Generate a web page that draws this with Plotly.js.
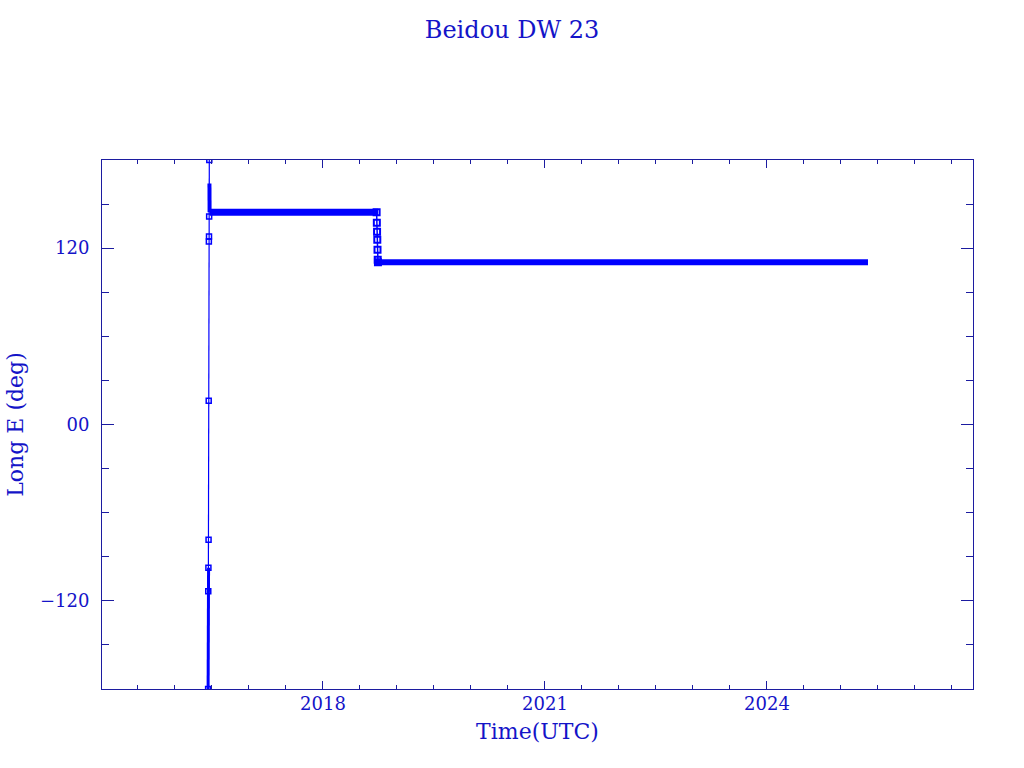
<!DOCTYPE html>
<html>
<head>
<meta charset="utf-8">
<script src="https://cdn.plot.ly/plotly-3.0.1.min.js"></script>
<style>html,body{margin:0;padding:0;background:#fff;}#chart{width:1024px;height:768px;}</style>
</head>
<body>
<div id="chart"></div>
<script>
// Decimal-year times and east longitudes (deg)
const launchTime = [2016.448, 2016.450, 2016.452, 2016.454, 2016.456, 2016.458, 2016.460, 2016.462, 2016.464];
const launchLon  = [-180, -113.5, -97.5, -78.5, 16.2, 124.5, 128.0, 141.5, 180];
const lowDriftTime = [2016.448, 2016.454];
const lowDriftLon  = [-180, -97.5];
const approachTime = [2016.466, 2016.468];
const approachLon  = [164, 144.5];
const station1Time = [2016.470, 2018.745];
const station1Lon  = [144.5, 144.5];
const relocTime = [2018.725, 2018.728, 2018.731, 2018.734, 2018.737, 2018.740, 2018.743];
const relocLon  = [144.5, 137.3, 131.2, 125.8, 119.0, 112.2, 110.5];
const station2Time = [2018.715, 2025.365];
const station2Lon  = [110.5, 110.5];

const yTickVals = [-120, 0, 120];
const yTickText = ['\u2212120', '00', '120'];
const xTickVals = [2018, 2021, 2024];
const xTickText = ['2018', '2021', '2024'];

const dataBlue = '#0000ff';
const axisBlue = '#1c1ca0';
const textBlue = '#1414c8';
const fontFam = 'DejaVu Serif, serif';

const traces = [
  {x: launchTime, y: launchLon, mode: 'lines+markers', line: {color: dataBlue, width: 1.2},
   marker: {symbol: 'square-open', size: 5, color: dataBlue, line: {width: 1.5}}},
  {x: lowDriftTime, y: lowDriftLon, mode: 'lines', line: {color: dataBlue, width: 3}},
  {x: approachTime, y: approachLon, mode: 'lines', line: {color: dataBlue, width: 4}},
  {x: station1Time, y: station1Lon, mode: 'lines', line: {color: dataBlue, width: 7}},
  {x: relocTime, y: relocLon, mode: 'lines+markers', line: {color: dataBlue, width: 1.5},
   marker: {symbol: 'square-open', size: 6, color: dataBlue, line: {width: 2}}},
  {x: station2Time, y: station2Lon, mode: 'lines', line: {color: dataBlue, width: 6}}
];

const layout = {
  width: 1024, height: 768,
  margin: {l: 102, r: 51, t: 160, b: 79, pad: 0},
  paper_bgcolor: '#ffffff', plot_bgcolor: '#ffffff',
  showlegend: false,
  font: {family: fontFam, color: textBlue, size: 18},
  title: {text: 'Beidou DW 23', x: 0.5, xref: 'container', y: 0.961, yref: 'container',
          xanchor: 'center', yanchor: 'middle', font: {family: fontFam, size: 24, color: textBlue}},
  xaxis: {
    range: [2015.014, 2026.784], showgrid: false, zeroline: false,
    showline: true, linecolor: axisBlue, linewidth: 1, mirror: 'ticks',
    ticks: 'inside', ticklen: 8, tickwidth: 1, tickcolor: axisBlue,
    tickvals: xTickVals, ticktext: xTickText, ticklabelstandoff: -2,
    tickfont: {family: fontFam, size: 18, color: textBlue},
    minor: {dtick: 0.5, tick0: 2015, ticks: 'inside', ticklen: 4, tickcolor: axisBlue, showgrid: false},
    title: {text: 'Time(UTC)', standoff: 11, font: {family: fontFam, size: 22, color: textBlue}}
  },
  yaxis: {
    range: [-180, 180], showgrid: false, zeroline: false,
    showline: true, linecolor: axisBlue, linewidth: 1, mirror: 'ticks',
    ticks: 'inside', ticklen: 12, tickwidth: 1, tickcolor: axisBlue,
    tickvals: yTickVals, ticktext: yTickText, ticklabelstandoff: 8,
    tickfont: {family: fontFam, size: 18, color: textBlue},
    minor: {dtick: 30, tick0: 0, ticks: 'inside', ticklen: 7, tickcolor: axisBlue, showgrid: false},
    title: {text: 'Long E (deg)', standoff: 10, font: {family: fontFam, size: 22, color: textBlue}}
  }
};

Plotly.newPlot('chart', traces, layout, {displayModeBar: false, staticPlot: true});
</script>
</body>
</html>
